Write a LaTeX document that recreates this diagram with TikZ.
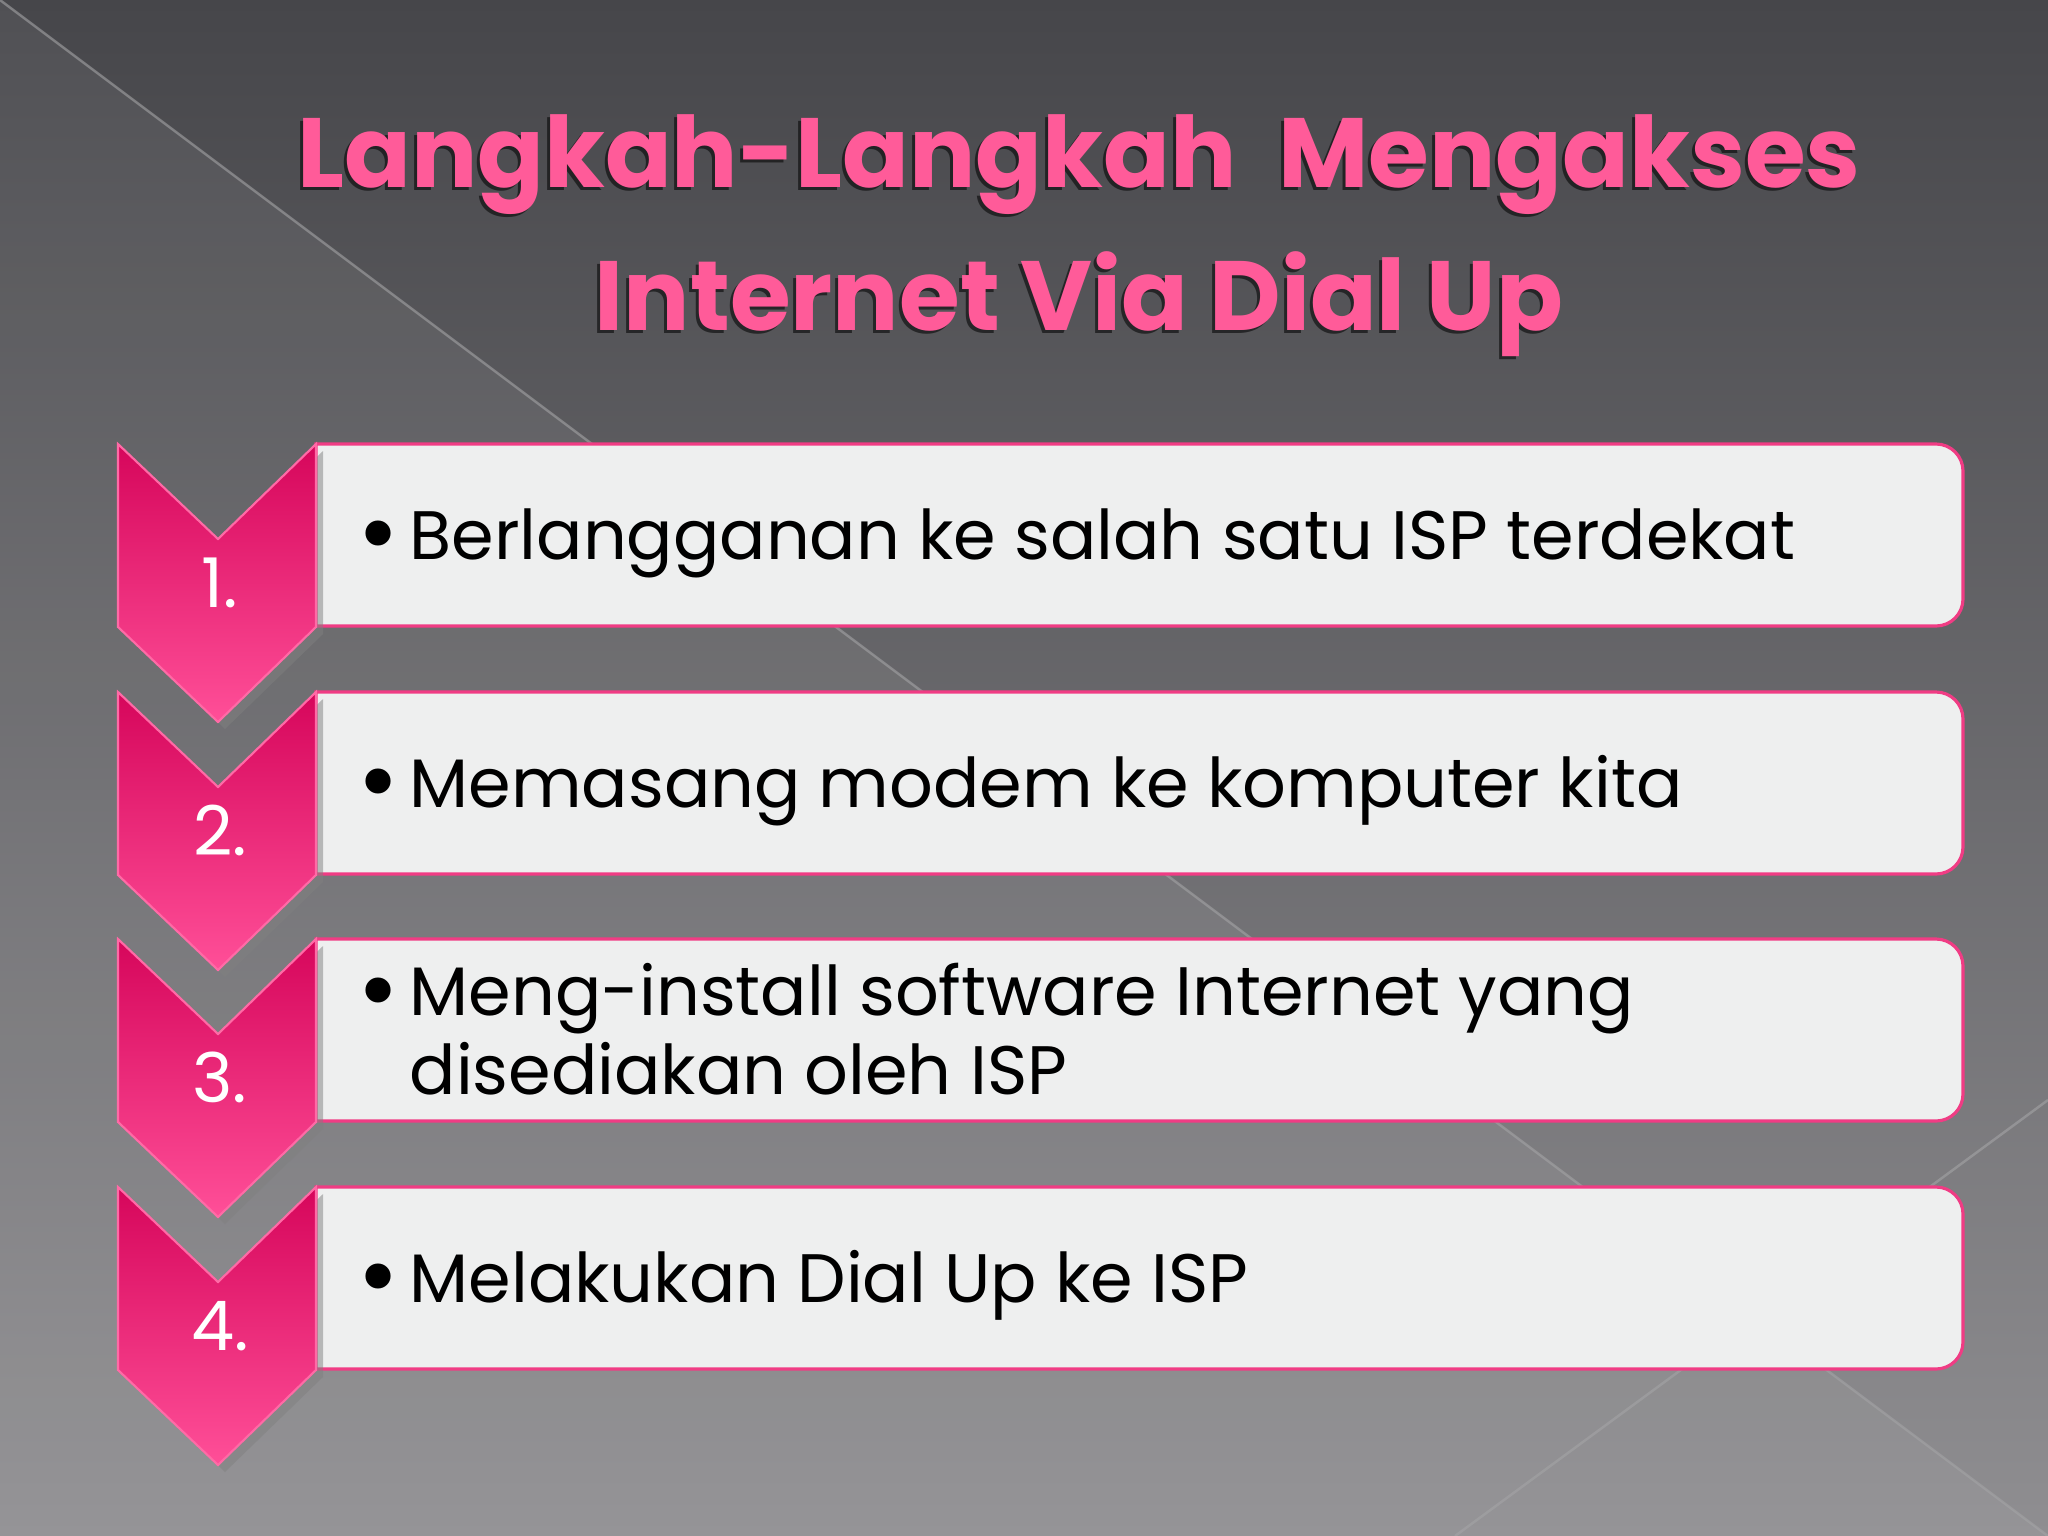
\documentclass[tikz,border=0pt]{standalone}
\usepackage{fontspec}
\setmainfont{Poppins}
\newfontfamily\judulfont{Poppins}
\usepackage{xcolor}
\usetikzlibrary{positioning,calc,shadows}

\definecolor{bgtop}{HTML}{46464A}
\definecolor{bgbot}{HTML}{8F8E91}
\definecolor{garis}{HTML}{A4A4A6}
\definecolor{pinkline}{HTML}{F03C84}
\definecolor{pinktop}{HTML}{D6065B}
\definecolor{pinkbot}{HTML}{FF4F98}
\definecolor{pinkedge}{HTML}{FF6AA6}
\definecolor{boxfill}{HTML}{EEEFEF}
\definecolor{judulpink}{HTML}{FF5B99}

\tikzset{
  langkahbox/.style={fill=boxfill, draw=pinkline, line width=0.9pt},
  panah/.style={top color=pinktop, bottom color=pinkbot, draw=pinkedge, line width=0.6pt,
    drop shadow={shadow xshift=0.7mm, shadow yshift=-0.7mm, opacity=0.5}},
  isi/.style={anchor=base west, inner sep=0pt, align=left, text=black,
    font=\fontsize{19.5}{22.2}\selectfont},
  titik/.style={anchor=base west, inner sep=0pt, text=black,
    font=\fontsize{29}{30}\selectfont},
  nomor/.style={anchor=base, inner sep=0pt, text=white,
    font=\fontsize{19.5}{22.2}\selectfont},
  judul/.style={anchor=base, inner sep=0pt, align=center, text=judulpink,
    font=\judulfont\bfseries\fontsize{28}{40.6}\selectfont},
}

\begin{document}
\begin{tikzpicture}[x=0.01cm, y=-0.01cm]
    \useasboundingbox (0,0) rectangle (2048,1536);

    % Background
    \shade[top color=bgtop, bottom color=bgbot] (0,0) rectangle (2048,1536);
    \fill[white, opacity=0.06] (0,0) -- (2048,1536) -- (0,1536) -- cycle;
    \draw[garis, opacity=0.6, line width=0.7pt] (0,0) -- (2048,1536);
    \draw[garis, opacity=0.6, line width=0.7pt] (2048,1100) -- (1455,1536);

    % Title (base = last line)
    \node[judul, text=black, opacity=0.55] (judulbayang) at (1076,333)
        {Langkah-Langkah~ Mengakses\\Internet Via Dial Up};
    \node[judul] (judul) at (1079,330)
        {Langkah-Langkah~ Mengakses\\Internet Via Dial Up};

    % Steps
    \foreach \n/\top/\off/\boff/\teks in {
        1/444/115/115/{Berlangganan ke salah satu ISP terdekat},
        2/692/115/115/{Memasang modem ke komputer kita},
        3/939/155/77/{Meng-install software Internet yang\\disediakan oleh ISP},
        4/1187/115/115/{Melakukan Dial Up ke ISP}} {
      \draw[langkahbox] (316,\top+182) -- (316,\top) [rounded corners=0.27cm]
          -- (1963,\top) -- (1963,\top+182) [sharp corners] -- (316,\top+182) -- cycle;
      \path[panah] (118,\top) -- (218,\top+95) -- (316,\top) -- (316,\top+183)
          -- (218,\top+278) -- (118,\top+183) -- cycle;
      \node[nomor] (n\n) at (220,\top+163) {\n.};
      \node[titik] (b\n) at (357,\top+\boff+8) {\textbullet};
      \node[isi] (t\n) at (409,\top+\off) {\teks};
    }
\end{tikzpicture}
\end{document}
